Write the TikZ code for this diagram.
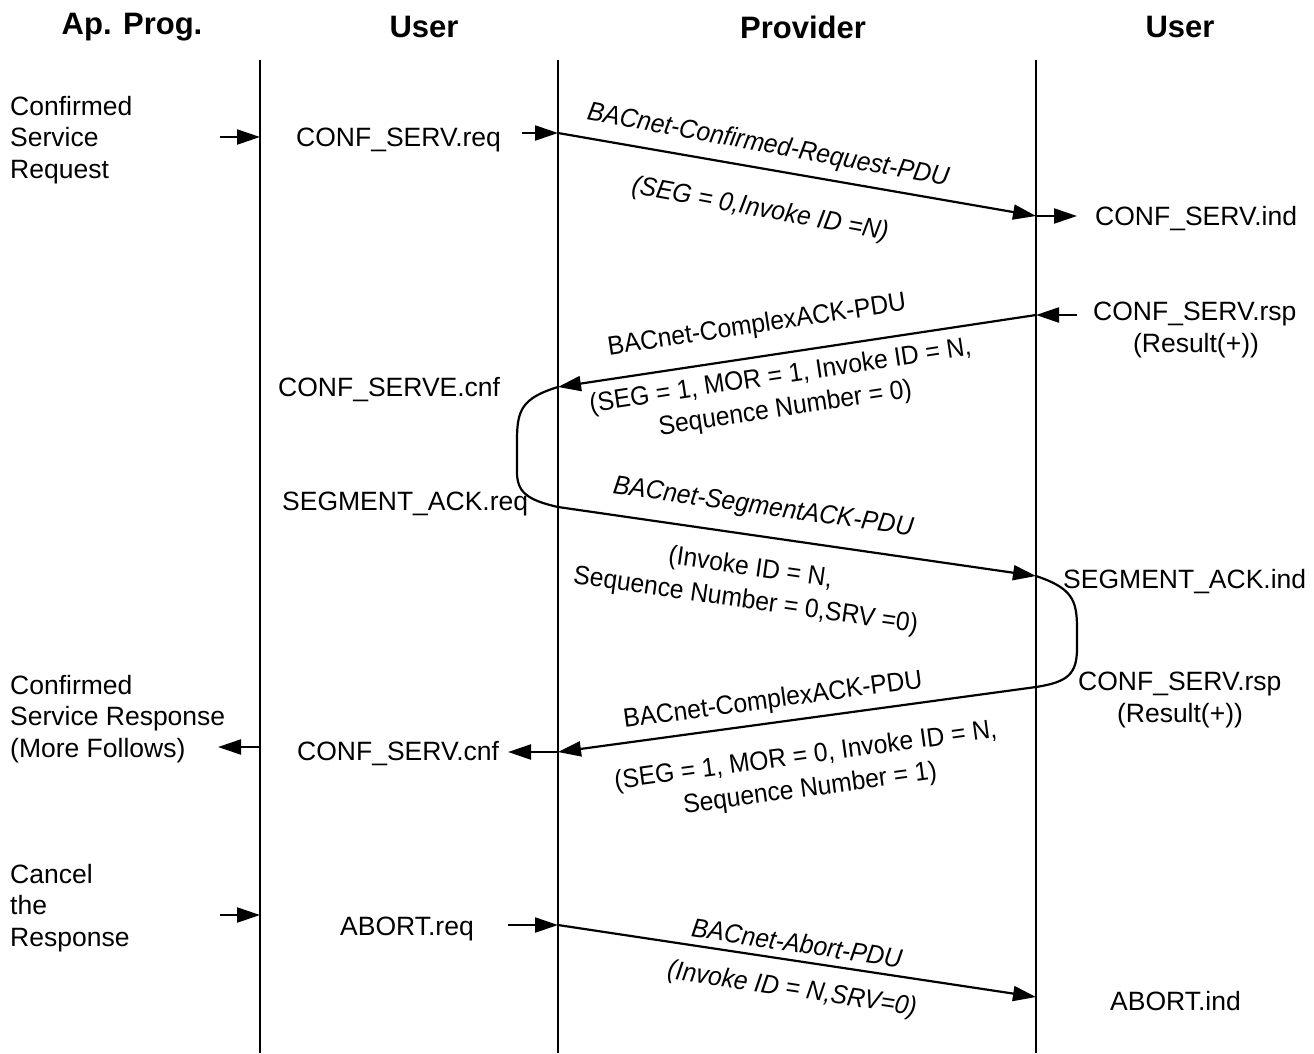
\documentclass[tikz,border=0pt]{standalone}
\usepackage{fontspec}
\setmainfont{Liberation Sans}
\usetikzlibrary{arrows.meta}

\begin{document}
\begin{tikzpicture}[x=1pt,y=-1pt,
  lifeline/.style={line width=2pt},
  wire/.style={line width=2.2pt},
  msg/.style={line width=2.2pt,-{Triangle[length=23pt,width=15pt]}},
  head/.style={font=\fontsize{31}{36}\selectfont\bfseries,inner sep=0pt,anchor=center},
  txt/.style={font=\fontsize{26.5}{31.5}\selectfont,inner sep=0pt,anchor=base west,align=left},
  ctxt/.style={font=\fontsize{26.5}{31.5}\selectfont,inner sep=0pt,anchor=base,align=center},
  lbl/.style={font=\fontsize{26.5}{33}\selectfont\addfontfeature{FakeStretch=0.93},inner sep=0pt,align=center},
  ilbl/.style={lbl,font=\fontsize{26.5}{33}\selectfont\itshape\addfontfeature{FakeStretch=0.93}},
]
\useasboundingbox (0,0) rectangle (1314,1053);

% column headings
\node[head] (hApp)  at (132,27)  {Ap. Prog.};
\node[head] (hUsr1) at (424,27)  {User};
\node[head] (hProv) at (803,27)  {Provider};
\node[head] (hUsr2) at (1180,27) {User};

% lifelines
\coordinate (L1t) at (260,60);  \coordinate (L1b) at (260,1053);
\coordinate (L2t) at (558,60);  \coordinate (L2b) at (558,1053);
\coordinate (L3t) at (1036,60); \coordinate (L3b) at (1036,1053);
\draw[lifeline] (L1t) -- (L1b);
\draw[lifeline] (L2t) -- (L2b);
\draw[lifeline] (L3t) -- (L3b);

% ---------- confirmed request ----------
% (multi-line stacks are anchored on the baseline of their last line)
\node[txt] (appReq) at (10,178) {Confirmed\\Service\\Request};
\coordinate (a1s) at (220,137); \coordinate (a1e) at (260,137);
\draw[msg] (a1s) -- (a1e);
\node[txt] (confReq) at (296,146) {CONF\_SERV.req};
\coordinate (a2s) at (522,133); \coordinate (p1s) at (558,133);
\draw[msg] (a2s) -- (p1s);
\coordinate (p1e) at (1036,216);
\draw[msg] (p1s) -- (p1e);
\coordinate (a3e) at (1077,216);
\draw[msg] (p1e) -- (a3e);
\node[txt] (confInd) at (1095,225) {CONF\_SERV.ind};
\node[ilbl,rotate=-10.5] (pdu1) at (768,146) {BACnet-Confirmed-Request-PDU};
\node[ilbl,rotate=-10.5] (par1) at (760,210) {(SEG = 0,Invoke ID =N)};

% ---------- first segment of the complex ack ----------
\node[txt] (confRsp1) at (1093,320) {CONF\_SERV.rsp};
\node[ctxt] (res1) at (1196,352) {(Result(+))};
\coordinate (a4s) at (1077,315); \coordinate (p2s) at (1036,315);
\draw[msg] (a4s) -- (p2s);
\coordinate (p2e) at (558,387);
\draw[msg] (p2s) -- (p2e);
\node[lbl,rotate=8.6] (pdu2) at (757,326) {BACnet-ComplexACK-PDU};
\node[lbl,rotate=8.6] (par2) at (783,393) {(SEG = 1, MOR = 1, Invoke ID = N,\\Sequence Number = 0)};
\node[txt] (confCnf1) at (278,396) {CONF\_SERVE.cnf};

% segment acknowledgement loop on the requesting side
\coordinate (p3s) at (558,507);
\draw[wire] (p2e) .. controls (522,398) and (517,410) .. (517,440)
  -- (517,472) .. controls (517,492) and (527,500) .. (p3s);
\node[txt] (segReq) at (282,510) {SEGMENT\_ACK.req};
\coordinate (p3e) at (1036,576);
\draw[msg] (p3s) -- (p3e);
\node[ilbl,rotate=-8.1] (pdu3) at (763,508) {BACnet-SegmentACK-PDU};
\node[lbl,rotate=-8.1] (par3) at (748,585) {(Invoke ID = N,\\Sequence Number = 0,SRV =0)};
\node[txt] (segInd) at (1063,588) {SEGMENT\_ACK.ind};

% loop on the responding side
\coordinate (p4s) at (1036,687);
\draw[wire] (p3e) .. controls (1072,588) and (1077,600) .. (1077,628)
  -- (1077,648) .. controls (1077,674) and (1068,682) .. (p4s);
\node[txt] (confRsp2) at (1078,690) {CONF\_SERV.rsp};
\node[ctxt] (res2) at (1180,722) {(Result(+))};

% ---------- last segment of the complex ack ----------
\coordinate (p4e) at (558,752);
\draw[msg] (p4s) -- (p4e);
\node[lbl,rotate=7.7] (pdu4) at (773,701) {BACnet-ComplexACK-PDU};
\node[lbl,rotate=7.7] (par4) at (808,773) {(SEG = 1, MOR = 0, Invoke ID = N,\\Sequence Number = 1)};
\coordinate (a5e) at (508,752);
\draw[msg] (p4e) -- (a5e);
\node[txt] (confCnf2) at (297,760) {CONF\_SERV.cnf};
\coordinate (a6s) at (260,747); \coordinate (a6e) at (218,747);
\draw[msg] (a6s) -- (a6e);
\node[txt] (appRsp) at (10,757) {Confirmed\\Service Response\\(More Follows)};

% ---------- abort ----------
\node[txt] (appCancel) at (10,946) {Cancel\\the\\Response};
\coordinate (a7s) at (220,915); \coordinate (a7e) at (260,915);
\draw[msg] (a7s) -- (a7e);
\node[txt] (abReq) at (340,935) {ABORT.req};
\coordinate (a8s) at (508,925); \coordinate (p5s) at (558,925);
\draw[msg] (a8s) -- (p5s);
\coordinate (p5e) at (1036,997);
\draw[msg] (p5s) -- (p5e);
\node[ilbl,rotate=-8.6] (pdu5) at (797,943) {BACnet-Abort-PDU};
\node[ilbl,rotate=-8.6] (par5) at (792,990) {(Invoke ID = N,SRV=0)};
\node[txt] (abInd) at (1110,1010) {ABORT.ind};
\end{tikzpicture}
\end{document}
